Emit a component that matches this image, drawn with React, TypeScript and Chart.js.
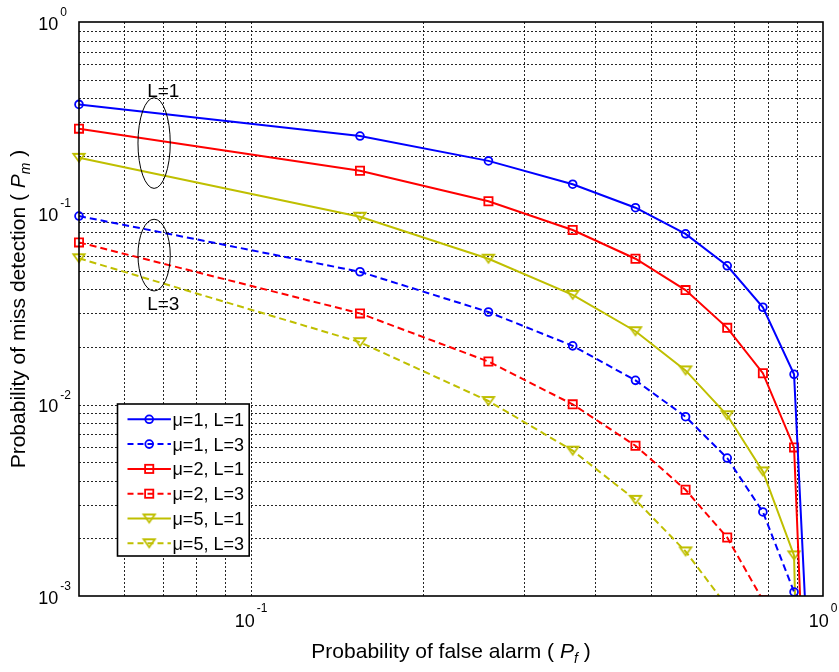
import React, { useEffect, useRef } from 'react';
import { Chart, registerables } from 'chart.js';

Chart.register(...registerables);

// ---- data ----
const PF = [0.05, 0.155, 0.26, 0.365, 0.47, 0.575, 0.68, 0.785, 0.89, 0.995];
const MU1_L1 = [0.371, 0.2535, 0.188, 0.142, 0.107, 0.0781, 0.0532, 0.0323, 0.0144, 1.5e-5];
const MU1_L3 = [0.0968, 0.0495, 0.0305, 0.0203, 0.0134, 0.00865, 0.00526, 0.00275, 0.00105, 1e-9];
const MU2_L1 = [0.277, 0.167, 0.1156, 0.0818, 0.0579, 0.0397, 0.0252, 0.0146, 0.00598, 1.6e-6];
const MU2_L3 = [0.0705, 0.03, 0.0168, 0.01004, 0.0061, 0.00359, 0.00202, 0.00095, 0.0002, 1e-9];
const MU5_L1 = [0.195, 0.096, 0.0579, 0.0375, 0.0242, 0.0151, 0.0088, 0.00448, 0.00163, 1e-9];
const MU5_L3 = [0.0582, 0.0212, 0.01045, 0.00575, 0.00318, 0.00171, 0.00088, 0.0003, 0.00005, 1e-9];

const SERIES_LABELS = ['μ=1, L=1', 'μ=1, L=3', 'μ=2, L=1', 'μ=2, L=3', 'μ=5, L=1', 'μ=5, L=3'];
const SERIES_VALUES = [MU1_L1, MU1_L3, MU2_L1, MU2_L3, MU5_L1, MU5_L3];
const SERIES_COLORS = ['#0000FF', '#0000FF', '#FF0000', '#FF0000', '#BFBF00', '#BFBF00'];
const SERIES_DASHED = [false, true, false, true, false, true];
const SERIES_MARKERS = ['circle', 'circle', 'rect', 'rect', 'tri', 'tri'];

const X_MIN = 0.05;
const X_MAX = 1;
const Y_MIN = 0.001;
const Y_MAX = 1;
const X_TICK_EXPONENTS = [-1, 0];
const Y_TICK_EXPONENTS = [-3, -2, -1, 0];
const X_GRID = [0.06, 0.07, 0.08, 0.09, 0.1, 0.2, 0.3, 0.4, 0.5, 0.6, 0.7, 0.8, 0.9];
const Y_GRID = [
  0.002, 0.003, 0.004, 0.005, 0.006, 0.007, 0.008, 0.009, 0.01,
  0.02, 0.03, 0.04, 0.05, 0.06, 0.07, 0.08, 0.09, 0.1,
  0.2, 0.3, 0.4, 0.5, 0.6, 0.7, 0.8, 0.9,
];

// annotation groups (ellipse extents in data units, label position)
const GROUP_LABELS = ['L=1', 'L=3'];
const GROUP_ELLIPSE_X = [[0.0634, 0.0722], [0.0634, 0.0722]];
const GROUP_ELLIPSE_Y = [[0.135, 0.402], [0.0393, 0.0931]];
const GROUP_LABEL_POS = [[0.0702, 0.443], [0.0702, 0.0341]];

const X_TITLE = 'Probability of false alarm';
const Y_TITLE = 'Probability of miss detection';

const FONT = '"Liberation Sans", Arial, Helvetica, sans-serif';

type Run = { t: string; size: number; italic?: boolean; dy?: number };

function fontOf(r: Run) {
  return `${r.italic ? 'italic ' : ''}${r.size}px ${FONT}`;
}
function runsWidth(ctx: CanvasRenderingContext2D, runs: Run[]) {
  let w = 0;
  for (const r of runs) {
    ctx.font = fontOf(r);
    w += ctx.measureText(r.t).width;
  }
  return w;
}
function drawRuns(ctx: CanvasRenderingContext2D, runs: Run[], x: number, y: number) {
  let cx = x;
  ctx.textAlign = 'left';
  ctx.textBaseline = 'alphabetic';
  for (const r of runs) {
    ctx.font = fontOf(r);
    ctx.fillText(r.t, cx, y + (r.dy || 0));
    cx += ctx.measureText(r.t).width;
  }
}

function makeTriangle(color: string) {
  const c = document.createElement('canvas');
  c.width = 16;
  c.height = 14;
  const g = c.getContext('2d')!;
  g.strokeStyle = color;
  g.lineWidth = 1.8;
  g.lineJoin = 'miter';
  g.beginPath();
  g.moveTo(2.3, 3);
  g.lineTo(13.7, 3);
  g.lineTo(8, 11);
  g.closePath();
  g.stroke();
  return c;
}

export default function App() {
  const ref = useRef<HTMLCanvasElement>(null);

  useEffect(() => {
    const canvas = ref.current!;
    const triYellow = makeTriangle('#BFBF00');

    const decorPlugin = {
      id: 'decor',
      beforeDatasetsDraw(chart: any) {
        const { ctx, chartArea: a } = chart;
        const xs = chart.scales.x;
        const ys = chart.scales.y;
        ctx.save();
        ctx.strokeStyle = 'rgba(0,0,0,0.85)';
        ctx.lineWidth = 1;
        ctx.setLineDash([2, 2]);
        for (const v of X_GRID) {
          const px = Math.round(xs.getPixelForValue(v)) + 0.5;
          ctx.beginPath();
          ctx.moveTo(px, a.top);
          ctx.lineTo(px, a.bottom);
          ctx.stroke();
        }
        for (const v of Y_GRID) {
          const py = Math.round(ys.getPixelForValue(v)) + 0.5;
          ctx.beginPath();
          ctx.moveTo(a.left, py);
          ctx.lineTo(a.right, py);
          ctx.stroke();
        }
        ctx.restore();
      },
      afterDatasetsDraw(chart: any) {
        const { ctx, chartArea: a } = chart;
        const xs = chart.scales.x;
        const ys = chart.scales.y;
        ctx.save();

        // ellipses + group labels
        ctx.strokeStyle = '#000';
        ctx.lineWidth = 1;
        ctx.setLineDash([]);
        for (let i = 0; i < GROUP_LABELS.length; i++) {
          const x1 = xs.getPixelForValue(GROUP_ELLIPSE_X[i][0]);
          const x2 = xs.getPixelForValue(GROUP_ELLIPSE_X[i][1]);
          const y1 = ys.getPixelForValue(GROUP_ELLIPSE_Y[i][1]);
          const y2 = ys.getPixelForValue(GROUP_ELLIPSE_Y[i][0]);
          ctx.beginPath();
          ctx.ellipse((x1 + x2) / 2, (y1 + y2) / 2, (x2 - x1) / 2, (y2 - y1) / 2, 0, 0, Math.PI * 2);
          ctx.stroke();
          ctx.fillStyle = '#000';
          ctx.font = `19px ${FONT}`;
          ctx.textAlign = 'center';
          ctx.textBaseline = 'alphabetic';
          const lx = xs.getPixelForValue(GROUP_LABEL_POS[i][0]);
          const ly = ys.getPixelForValue(GROUP_LABEL_POS[i][1]);
          ctx.fillText(GROUP_LABELS[i], lx, ly + 7);
        }

        // frame
        ctx.strokeStyle = '#000';
        ctx.lineWidth = 1.6;
        ctx.strokeRect(a.left, a.top, a.right - a.left, a.bottom - a.top);

        // y tick labels
        ctx.fillStyle = '#000';
        for (const e of Y_TICK_EXPONENTS) {
          const py = ys.getPixelForValue(Math.pow(10, e));
          const rx = a.left - 20.7;
          ctx.font = `18px ${FONT}`;
          ctx.textAlign = 'right';
          ctx.textBaseline = 'alphabetic';
          ctx.fillText('10', rx, py + 7.5);
          ctx.font = `12px ${FONT}`;
          ctx.textAlign = 'left';
          ctx.fillText(String(e), rx + 2, py - 6);
        }
        // x tick labels
        for (const e of X_TICK_EXPONENTS) {
          const px = xs.getPixelForValue(Math.pow(10, e));
          ctx.font = `18px ${FONT}`;
          const w10 = ctx.measureText('10').width;
          ctx.font = `12px ${FONT}`;
          const we = ctx.measureText(String(e)).width;
          const start = px - (w10 + 2 + we) / 2;
          ctx.textAlign = 'left';
          ctx.textBaseline = 'alphabetic';
          ctx.font = `18px ${FONT}`;
          ctx.fillText('10', start, a.bottom + 30.7);
          ctx.font = `12px ${FONT}`;
          ctx.fillText(String(e), start + w10 + 2, a.bottom + 16);
        }

        // x title
        const xRuns: Run[] = [
          { t: X_TITLE + ' ( ', size: 21 },
          { t: 'P', size: 21, italic: true },
          { t: 'f', size: 14, italic: true, dy: 5 },
          { t: ' )', size: 21 },
        ];
        const xw = runsWidth(ctx, xRuns);
        drawRuns(ctx, xRuns, (a.left + a.right) / 2 - xw / 2, 658.3);

        // y title
        const yRuns: Run[] = [
          { t: Y_TITLE + ' ( ', size: 21 },
          { t: 'P', size: 21, italic: true },
          { t: 'm', size: 14, italic: true, dy: 5 },
          { t: ' )', size: 21 },
        ];
        const yw = runsWidth(ctx, yRuns);
        ctx.save();
        ctx.translate(25, (a.top + a.bottom) / 2);
        ctx.rotate(-Math.PI / 2);
        drawRuns(ctx, yRuns, -yw / 2, 0);
        ctx.restore();

        // legend
        const lx = a.left + 38.5;
        const ly = a.top + 382;
        const lw = 131.7;
        const lh = 152;
        ctx.fillStyle = '#fff';
        ctx.fillRect(lx, ly, lw, lh);
        ctx.strokeStyle = '#000';
        ctx.lineWidth = 1.6;
        ctx.strokeRect(lx, ly, lw, lh);
        for (let i = 0; i < SERIES_LABELS.length; i++) {
          const cy = ly + 15.3 + i * 24.8;
          const color = SERIES_COLORS[i];
          ctx.strokeStyle = color;
          ctx.lineWidth = 2;
          ctx.setLineDash(SERIES_DASHED[i] ? [6, 4] : []);
          ctx.beginPath();
          ctx.moveTo(lx + 10, cy);
          ctx.lineTo(lx + 53.4, cy);
          ctx.stroke();
          ctx.setLineDash([]);
          const mx = lx + 31.7;
          ctx.lineWidth = 1.8;
          if (SERIES_MARKERS[i] === 'circle') {
            ctx.beginPath();
            ctx.arc(mx, cy, 3.9, 0, Math.PI * 2);
            ctx.stroke();
          } else if (SERIES_MARKERS[i] === 'rect') {
            ctx.strokeRect(mx - 4.1, cy - 4.1, 8.2, 8.2);
          } else {
            ctx.drawImage(triYellow, mx - 8, cy - 7);
          }
          ctx.fillStyle = '#000';
          ctx.font = `18px ${FONT}`;
          ctx.textAlign = 'left';
          ctx.textBaseline = 'alphabetic';
          ctx.fillText(SERIES_LABELS[i], lx + 55, cy + 6.5);
        }
        ctx.restore();
      },
    };

    const datasets = SERIES_LABELS.map((label, i) => {
      const m = SERIES_MARKERS[i];
      return {
        label,
        data: PF.map((x, k) => ({ x, y: SERIES_VALUES[i][k] })),
        borderColor: SERIES_COLORS[i],
        backgroundColor: 'transparent',
        borderWidth: 2,
        borderDash: SERIES_DASHED[i] ? [7, 4] : [],
        tension: 0,
        fill: false,
        pointStyle: m === 'circle' ? 'circle' : m === 'rect' ? 'rect' : triYellow,
        pointRadius: m === 'circle' ? 3.9 : m === 'rect' ? 5.8 : 6,
        pointHoverRadius: m === 'circle' ? 3.9 : m === 'rect' ? 5.8 : 6,
        pointBorderWidth: 1.8,
        pointBorderColor: SERIES_COLORS[i],
        pointBackgroundColor: 'transparent',
        clip: { left: 10, top: 10, right: 10, bottom: 0 },
      };
    });

    const chart = new Chart(canvas, {
      type: 'line',
      data: { datasets: datasets as any },
      options: {
        animation: false,
        responsive: false,
        devicePixelRatio: 1,
        parsing: true,
        layout: { padding: { left: 79, top: 22, right: 16, bottom: 76 } },
        plugins: { legend: { display: false }, tooltip: { enabled: false } },
        events: [],
        scales: {
          x: { type: 'logarithmic', min: X_MIN, max: X_MAX, display: false },
          y: { type: 'logarithmic', min: Y_MIN, max: Y_MAX, display: false },
        },
      },
      plugins: [decorPlugin],
    });
    return () => chart.destroy();
  }, []);

  return (
    <div style={{ position: 'absolute', left: 0, top: 0 }}>
      <canvas ref={ref} width={839} height={672} style={{ display: 'block', width: 839, height: 672 }} />
    </div>
  );
}
